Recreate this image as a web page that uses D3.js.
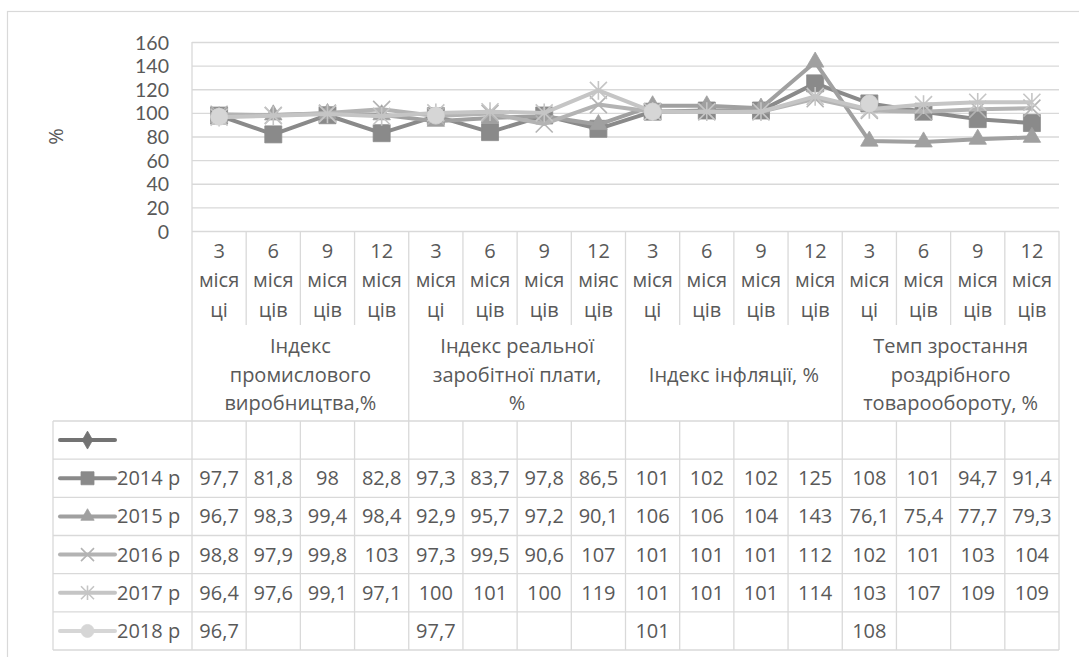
<!DOCTYPE html>
<html><head><meta charset="utf-8">
<script src="https://cdn.jsdelivr.net/npm/d3@7/dist/d3.min.js"></script>
<style>
body{margin:0;background:#fff}
text{font-family:"Open Sans",sans-serif;fill:#595959}
</style>
</head><body>
<svg id="c" width="1079" height="657"></svg>
<script>
// ---------------- data ----------------
const groupLabels = [
  ["Індекс", "промислового", "виробництва,%"],
  ["Індекс реальної", "заробітної плати,", "%"],
  ["Індекс інфляції, %"],
  ["Темп зростання", "роздрібного", "товарообороту, %"]
];
const categories = [
  "3 місяці", "6 місяців", "9 місяців", "12 місяців",
  "3 місяці", "6 місяців", "9 місяців", "12 міясців",
  "3 місяці", "6 місяців", "9 місяців", "12 місяців",
  "3 місяці", "6 місяців", "9 місяців", "12 місяців"
];
const seriesNames = ["", "2014 р", "2015 р", "2016 р", "2017 р", "2018 р"];
const sEmpty = [null,null,null,null, null,null,null,null, null,null,null,null, null,null,null,null];
const s2014 = [97.7,81.8,98,82.8, 97.3,83.7,97.8,86.5, 101,102,102,125, 108,101,94.7,91.4];
const s2015 = [96.7,98.3,99.4,98.4, 92.9,95.7,97.2,90.1, 106,106,104,143, 76.1,75.4,77.7,79.3];
const s2016 = [98.8,97.9,99.8,103, 97.3,99.5,90.6,107, 101,101,101,112, 102,101,103,104];
const s2017 = [96.4,97.6,99.1,97.1, 100,101,100,119, 101,101,101,114, 103,107,109,109];
const s2018 = [96.7,null,null,null, 97.7,null,null,null, 101,null,null,null, 108,null,null,null];
const yTicks = [0,20,40,60,80,100,120,140,160];
const yTitle = "%";

// ---------------- styles ----------------
const seriesValues = [sEmpty, s2014, s2015, s2016, s2017, s2018];
const seriesColors = ["#737373", "#8a8a8a", "#a0a0a0", "#b3b3b3", "#c5c5c5", "#d6d6d6"];
const seriesMarkers = ["diamond", "square", "triangle", "x", "star", "circle"];
const grid = "#d9d9d9";
const FS = 20;

const svg = d3.select("#c");
const P = {l: 192, r: 1059, t: 42, b: 231};
const x = d3.scaleBand().domain(d3.range(categories.length)).range([P.l, P.r]).padding(0);
const y = d3.scaleLinear().domain([0, 160]).range([P.b, P.t]);
const catBottom = 325, tableTop = 421, rowH = 38.17, tableLeft = 53;
const nRows = seriesNames.length;
const tableBottom = tableTop + nRows * rowH;

// outer border
svg.append("rect").attr("x", 7.5).attr("y", 11.5).attr("width", 1200).attr("height", 800)
  .attr("fill", "#fff").attr("stroke", grid).attr("stroke-width", 1.2);

// gridlines
svg.append("g").attr("transform", `translate(${P.l},0)`)
  .call(d3.axisLeft(y).tickValues(yTicks).tickSize(-(P.r - P.l)).tickFormat(""))
  .call(g => g.select(".domain").remove())
  .selectAll("line").attr("stroke", grid).attr("stroke-width", 1.3);

// y axis line
svg.append("line").attr("x1", P.l).attr("x2", P.l).attr("y1", P.t).attr("y2", P.b)
  .attr("stroke", grid).attr("stroke-width", 1.3);

// y tick labels
const ya = svg.append("g").attr("transform", `translate(169,0)`)
  .call(d3.axisLeft(y).tickValues(yTicks).tickSize(0).tickPadding(0));
ya.select(".domain").remove();
ya.attr("font-family", null).attr("font-size", null);
ya.selectAll("text").style("font-family", "Lato, sans-serif").attr("font-size", 19.5).attr("dy", "0.36em");

// y title
svg.append("text").attr("transform", `translate(63,${(P.t + P.b) / 2}) rotate(-90)`)
  .attr("text-anchor", "middle").attr("font-size", FS).text(yTitle);

// category separators
const bounds = d3.range(categories.length + 1).map(i => i < categories.length ? x(i) : x(i - 1) + x.bandwidth());
bounds.forEach((bx, i) => {
  const isGroup = i % 4 === 0;
  svg.append("line").attr("x1", bx).attr("x2", bx).attr("y1", P.b).attr("y2", isGroup ? tableTop : catBottom)
    .attr("stroke", grid).attr("stroke-width", 1.3);
});

// category labels
categories.forEach((c, i) => {
  const [num, word] = c.split(" ");
  const lines = [num];
  for (let k = 0; k < word.length; k += 4) lines.push(word.slice(k, k + 4));
  const cx = x(i) + x.bandwidth() / 2;
  lines.forEach((t, j) => {
    svg.append("text").attr("x", cx).attr("y", 257.5 + j * 29.8).attr("text-anchor", "middle")
      .attr("font-size", FS).text(t);
  });
});

// group labels
groupLabels.forEach((lines, gi) => {
  const gx = (bounds[gi * 4] + bounds[gi * 4 + 4]) / 2;
  const start = lines.length === 1 ? 381.5 : 353.3;
  lines.forEach((t, j) => {
    svg.append("text").attr("x", gx).attr("y", start + j * 28.2).attr("text-anchor", "middle")
      .attr("font-size", FS).text(t);
  });
});

// marker paths
function markerPath(type, s) {
  const a = s / 2;
  switch (type) {
    case "square": return d3.symbol(d3.symbolSquare, s * s)();
    case "triangle": return d3.symbol(d3.symbolTriangle, 0.433 * s * s * 1.05)();
    case "circle": return d3.symbol(d3.symbolCircle, Math.PI * a * a)();
    case "diamond": return d3.symbol(d3.symbolDiamond, s * s * 0.55)();
    case "x": return `M${-a},${-a}L${a},${a}M${-a},${a}L${a},${-a}`;
    case "star": return `M${-a},${-a}L${a},${a}M${-a},${a}L${a},${-a}M0,${-a * 1.1}L0,${a * 1.1}`;
  }
}
function drawMarker(g, type, color, cx, cy, s) {
  const stroked = (type === "x" || type === "star");
  g.append("path").attr("d", markerPath(type, s))
    .attr("transform", `translate(${cx},${cy})`)
    .attr("fill", stroked ? "none" : color)
    .attr("stroke", color).attr("stroke-width", stroked ? 1.6 : 0.8);
}

// series
const plotG = svg.append("g");
seriesValues.forEach((vals, si) => {
  const col = seriesColors[si];
  const line = d3.line().defined(d => d != null)
    .x((d, i) => x(i) + x.bandwidth() / 2).y(d => y(d));
  const g = plotG.append("g");
  g.append("path").datum(vals).attr("d", line).attr("fill", "none")
    .attr("stroke", col).attr("stroke-width", 4).attr("stroke-linejoin", "round");
  vals.forEach((v, i) => {
    if (v == null) return;
    drawMarker(g, seriesMarkers[si], col, x(i) + x.bandwidth() / 2, y(v), 17);
  });
});

// data table
for (let r = 0; r <= nRows; r++) {
  svg.append("line").attr("x1", tableLeft).attr("x2", P.r)
    .attr("y1", tableTop + r * rowH).attr("y2", tableTop + r * rowH)
    .attr("stroke", grid).attr("stroke-width", 1.3);
}
[tableLeft].concat(bounds).forEach(bx => {
  svg.append("line").attr("x1", bx).attr("x2", bx).attr("y1", tableTop).attr("y2", tableBottom)
    .attr("stroke", grid).attr("stroke-width", 1.3);
});
const fmt = v => String(v).replace(".", ",");
seriesNames.forEach((name, r) => {
  const cy = tableTop + (r + 0.5) * rowH;
  const col = seriesColors[r];
  const lg = svg.append("g");
  lg.append("line").attr("x1", 60).attr("x2", 115).attr("y1", cy).attr("y2", cy)
    .attr("stroke", col).attr("stroke-width", 4).attr("stroke-linecap", "round");
  drawMarker(lg, seriesMarkers[r], col, 87.5, cy, 13);
  if (name) svg.append("text").attr("x", 117).attr("y", cy + 7).attr("font-size", FS).text(name);
  seriesValues[r].forEach((v, i) => {
    if (v == null) return;
    svg.append("text").attr("x", x(i) + x.bandwidth() / 2).attr("y", cy + 7)
      .attr("text-anchor", "middle").attr("font-size", FS).text(fmt(v));
  });
});
</script>
</body></html>
